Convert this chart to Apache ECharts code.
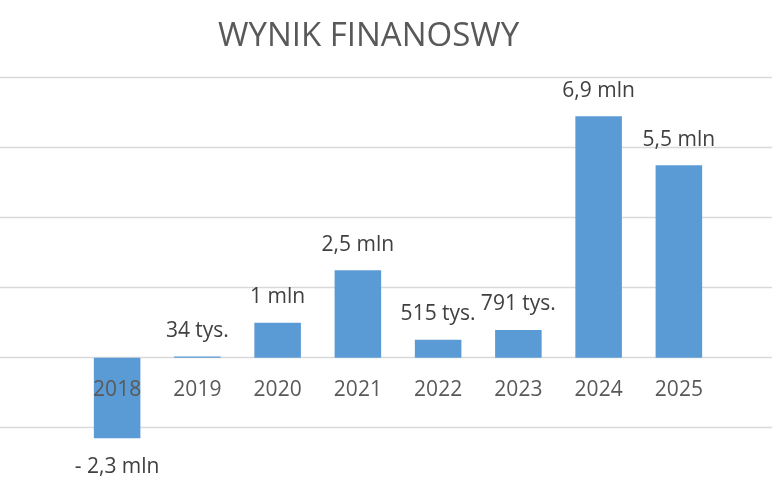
<!DOCTYPE html>
<html><head><meta charset="utf-8">
<script src="https://cdn.jsdelivr.net/npm/echarts@6/dist/echarts.min.js"></script>
<style>html,body{margin:0;padding:0;background:#fff}#c{width:772px;height:496px}</style>
</head><body><div id="c"></div>
<script>
const categories = ['2018','2019','2020','2021','2022','2023','2024','2025'];
const values = [-2.3, 0.034, 1.0, 2.5, 0.515, 0.791, 6.9, 5.5];
const valueLabels = ['- 2,3 mln','34 tys.','1 mln','2,5 mln','515 tys.','791 tys.','6,9 mln','5,5 mln'];
const chartTitle = 'WYNIK FINANOSWY';

const FONT = 'Open Sans';
const chart = echarts.init(document.getElementById('c'));
const yCommon = {type:'value', min:-2, max:8, interval:2};
chart.setOption({
  animation:false,
  backgroundColor:'#fff',
  title:{text:chartTitle, left:218, top:20, padding:0,
    textStyle:{fontFamily:FONT, fontSize:33, fontWeight:'normal', color:'#595959'}},
  grid:[
    {left:0, right:0, top:77.7, bottom:68.3},
    {left:77, right:53, top:77.7, bottom:68.3}
  ],
  xAxis:[
    {type:'value', gridIndex:0, show:false, min:0, max:1},
    {type:'category', gridIndex:1, data:categories, z:5, position:'bottom', offset:-70,
      axisLine:{show:false, onZero:false}, axisTick:{show:false},
      axisLabel:{margin:22, fontFamily:FONT, fontSize:21, color:'#595959'}}
  ],
  yAxis:[
    Object.assign({gridIndex:0, axisLine:{show:false}, axisTick:{show:false}, axisLabel:{show:false},
      splitLine:{show:true, lineStyle:{color:'#d9d9d9', width:1.4}}}, yCommon),
    Object.assign({gridIndex:1, show:false, splitLine:{show:false}}, yCommon)
  ],
  series:[{
    type:'bar', xAxisIndex:1, yAxisIndex:1, barWidth:'58%', clip:false, z:3,
    itemStyle:{color:'#5B9BD5'},
    data: values.map((v,i)=>({value:v, label:{position: v<0?'bottom':'top', distance: v<0?18:15}})),
    label:{show:true, fontFamily:FONT, fontSize:21, color:'#404040',
      formatter:p=>valueLabels[p.dataIndex]}
  }]
});
</script></body></html>
